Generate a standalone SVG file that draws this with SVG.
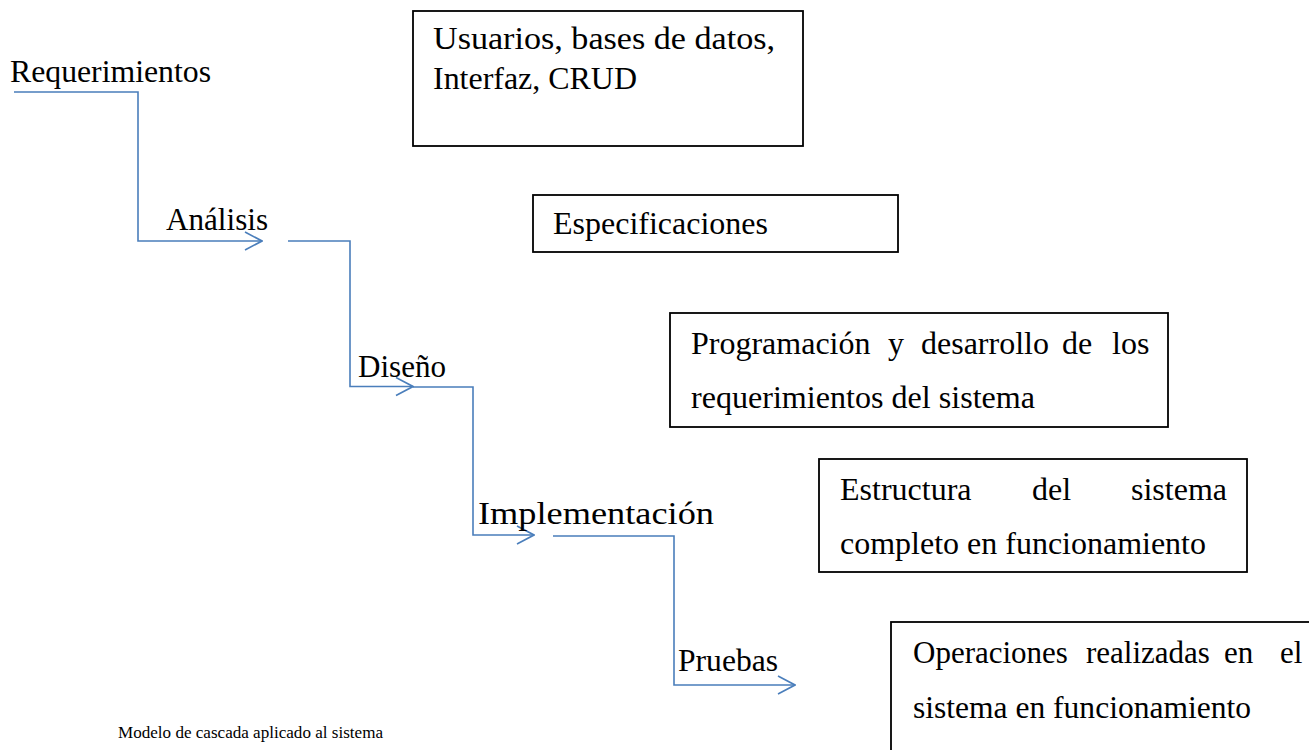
<svg xmlns="http://www.w3.org/2000/svg" width="1309" height="750" viewBox="0 0 1309 750">
<style>
.t{font-family:"Liberation Serif","Times New Roman",serif;font-size:32px;fill:#000}
.s{font-size:31px}
.cap{font-family:"Liberation Serif","Times New Roman",serif;font-size:17px;fill:#000}
.box{fill:#fff;stroke:#000;stroke-width:1.8}
.con{fill:none;stroke:#4A7EBB;stroke-width:1.6}
</style>
<defs>
<marker id="arr" viewBox="0 0 19 20" refX="18" refY="10" markerWidth="19" markerHeight="20" orient="auto" markerUnits="userSpaceOnUse">
<path d="M1,1 L18,10 L1,19" fill="none" stroke="#4A7EBB" stroke-width="1.6"/>
</marker>
</defs>
<rect width="1309" height="750" fill="#fff"/>
<g id="connectors">
<path class="con" d="M14,92 H138 V241 H262" marker-end="url(#arr)"/>
<path class="con" d="M288,241 H350 V386.5 H413" marker-end="url(#arr)"/>
<path class="con" d="M413,387 H473 V535 H534" marker-end="url(#arr)"/>
<path class="con" d="M553,536 H674 V685 H795" marker-end="url(#arr)"/>
</g>
<g id="label-requerimientos"><text class="t" x="10" y="82" textLength="201" lengthAdjust="spacingAndGlyphs">Requerimientos</text></g>
<g id="label-analisis"><text class="t" x="166" y="230" textLength="102" lengthAdjust="spacingAndGlyphs">Análisis</text></g>
<g id="label-diseno"><text class="t" x="358" y="377" textLength="88" lengthAdjust="spacingAndGlyphs">Diseño</text></g>
<g id="label-implementacion"><text class="t" x="478" y="524" textLength="236" lengthAdjust="spacingAndGlyphs">Implementación</text></g>
<g id="label-pruebas"><text class="t" x="678" y="671" textLength="100" lengthAdjust="spacingAndGlyphs">Pruebas</text></g>
<g id="box-usuarios">
<rect class="box" x="413" y="11" width="390" height="135"/>
<text class="t" x="433" y="49" textLength="342" lengthAdjust="spacingAndGlyphs">Usuarios, bases de datos,</text>
<text class="t" x="433" y="89" textLength="204" lengthAdjust="spacingAndGlyphs">Interfaz, CRUD</text>
</g>
<g id="box-especificaciones">
<rect class="box" x="533" y="195" width="365" height="57"/>
<text class="t" x="553" y="234" textLength="215" lengthAdjust="spacingAndGlyphs">Especificaciones</text>
</g>
<g id="box-programacion">
<rect class="box" x="670" y="313" width="498" height="114"/>
<text class="t" y="354"><tspan x="691">Programación</tspan><tspan x="888">y</tspan><tspan x="921">desarrollo</tspan><tspan x="1062">de</tspan><tspan x="1112">los</tspan></text>
<text class="t" x="691" y="408" textLength="344" lengthAdjust="spacingAndGlyphs">requerimientos del sistema</text>
</g>
<g id="box-estructura">
<rect class="box" x="819" y="459" width="428" height="113"/>
<text class="t" y="500"><tspan x="840">Estructura</tspan><tspan x="1032">del</tspan><tspan x="1131">sistema</tspan></text>
<text class="t" x="840" y="554" textLength="366" lengthAdjust="spacingAndGlyphs">completo en funcionamiento</text>
</g>
<g id="box-operaciones">
<rect class="box" x="891" y="622" width="440" height="140"/>
<text class="t s" y="663"><tspan x="913">Operaciones</tspan><tspan x="1086">realizadas</tspan><tspan x="1224">en</tspan><tspan x="1280">el</tspan></text>
<text class="t" x="913" y="718" textLength="338" lengthAdjust="spacingAndGlyphs">sistema en funcionamiento</text>
</g>
<g id="caption"><text class="cap" x="118" y="738" textLength="265" lengthAdjust="spacingAndGlyphs">Modelo de cascada aplicado al sistema</text></g>
</svg>
